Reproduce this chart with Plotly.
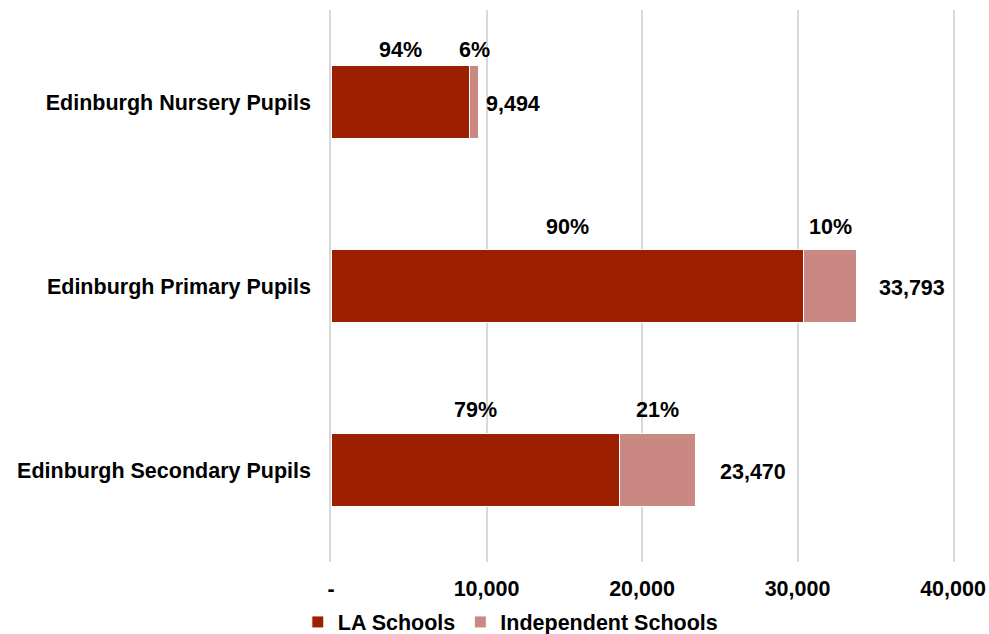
import plotly.graph_objects as go

categories = ["Edinburgh Nursery Pupils", "Edinburgh Primary Pupils", "Edinburgh Secondary Pupils"]
la_schools = [8924, 30414, 18541]
independent_schools = [570, 3379, 4929]
totals = [9494, 33793, 23470]
la_pct = ["94%", "90%", "79%"]
ind_pct = ["6%", "10%", "21%"]
tick_vals = [0, 10000, 20000, 30000, 40000]
tick_text = ["-", "10,000", "20,000", "30,000", "40,000"]

LA_COLOR = "#9C2000"
IND_COLOR = "#C98882"
GRID = "#D9D9D9"
FONT = dict(family="Liberation Sans, Arial, sans-serif", size=21.5, color="#000000")

fig = go.Figure()
fig.add_trace(go.Bar(
    y=categories, x=la_schools, orientation="h", name="<b>LA Schools</b>",
    marker=dict(color=LA_COLOR, line=dict(color="#FFFFFF", width=1)), width=0.395,
))
fig.add_trace(go.Bar(
    y=categories, x=independent_schools, orientation="h", name="<b>Independent Schools</b>",
    marker=dict(color=IND_COLOR, line=dict(color="#FFFFFF", width=1)), width=0.395,
))

annotations = []
pct_shift = [52, 59, 60]
total_shift = [5, 21, 22]
for i, cat in enumerate(categories):
    la = la_schools[i]
    ind = independent_schools[i]
    annotations.append(dict(x=la / 2, y=cat, text=f"<b>{la_pct[i]}</b>", showarrow=False,
                            yshift=pct_shift[i], font=FONT, xanchor="center"))
    annotations.append(dict(x=la + ind / 2, y=cat, text=f"<b>{ind_pct[i]}</b>", showarrow=False,
                            yshift=pct_shift[i], font=FONT, xanchor="center"))
    annotations.append(dict(x=totals[i], y=cat, text=f"<b>{totals[i]:,}</b>", showarrow=False,
                            xshift=total_shift[i], yshift=-2, xanchor="left", font=FONT))

fig.update_layout(
    width=989, height=634,
    barmode="stack",
    paper_bgcolor="#FFFFFF", plot_bgcolor="#FFFFFF",
    margin=dict(l=331, r=36, t=10, b=72, autoexpand=False),
    font=FONT,
    annotations=annotations,
    showlegend=True,
    legend=dict(orientation="h", xref="container", yref="container",
                x=0.516, xanchor="center", y=0.019, yanchor="middle",
                font=FONT, traceorder="normal", itemwidth=30),
)
fig.update_xaxes(
    range=[0, 40000], tickvals=tick_vals, ticktext=[f"<b>{t}</b>" for t in tick_text],
    showgrid=True, gridcolor=GRID, gridwidth=1.5, zeroline=False,
    showline=False, ticks="", ticklabelstandoff=11, automargin=False,
)
fig.update_yaxes(
    autorange="reversed", categoryorder="array", categoryarray=categories,
    tickvals=categories, ticktext=[f"<b>{c}</b>" for c in categories],
    showgrid=False, zeroline=False, ticks="", ticklabelstandoff=14,
    showline=True, linecolor=GRID, linewidth=1.5, mirror=True, automargin=False,
)

fig.write_html("out.html")
